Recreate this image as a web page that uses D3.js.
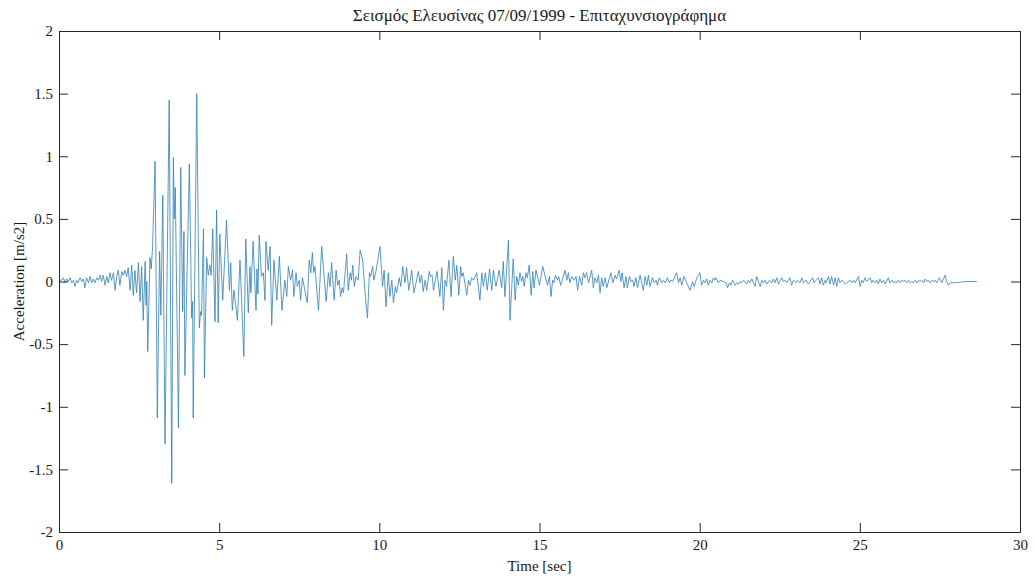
<!DOCTYPE html>
<html>
<head>
<meta charset="utf-8">
<script src="https://cdn.jsdelivr.net/npm/d3@7"></script>
<style>
  body { margin: 0; background: #ffffff; }
  svg { display: block; }
  svg text { font-family: 'Liberation Serif', 'Times New Roman', serif !important; fill: #1a1a1a; }
</style>
</head>
<body>
<svg id="chart" width="1034" height="576"></svg>
<script>
// Ground acceleration record, Athens (Elefsina) earthquake of 7 Sept 1999
// time in seconds, acceleration in m/s^2 (turning points of the trace)
const time = [
  0.00, 0.08, 0.14, 0.19, 0.24, 0.29, 0.34, 0.40, 0.45, 0.50, 0.55, 0.60, 0.66, 0.71, 0.76, 0.81,
  0.86, 0.92, 0.97, 1.02, 1.07, 1.12, 1.18, 1.23, 1.28, 1.33, 1.38, 1.44, 1.49, 1.54, 1.59, 1.64,
  1.70, 1.75, 1.80, 1.85, 1.90, 1.96, 2.01, 2.06, 2.11, 2.16, 2.22, 2.27, 2.32, 2.37, 2.42, 2.48,
  2.53, 2.58, 2.63, 2.69, 2.72, 2.74, 2.77, 2.84, 2.88, 2.92, 3.00, 3.07, 3.14, 3.18, 3.24, 3.31,
  3.44, 3.52, 3.57, 3.60, 3.63, 3.73, 3.80, 3.86, 3.90, 3.93, 4.07, 4.14, 4.17, 4.19, 4.30, 4.38,
  4.42, 4.45, 4.51, 4.54, 4.61, 4.66, 4.71, 4.75, 4.80, 4.87, 4.92, 4.97, 5.02, 5.11, 5.23, 5.32,
  5.36, 5.41, 5.46, 5.57, 5.65, 5.77, 5.83, 5.91, 5.96, 5.99, 6.06, 6.15, 6.18, 6.21, 6.25, 6.32,
  6.38, 6.43, 6.46, 6.53, 6.59, 6.64, 6.71, 6.80, 6.88, 6.96, 7.05, 7.11, 7.16, 7.23, 7.29, 7.33,
  7.40, 7.44, 7.50, 7.54, 7.60, 7.75, 7.81, 7.86, 7.91, 7.95, 7.99, 8.10, 8.20, 8.34, 8.41, 8.46,
  8.51, 8.59, 8.65, 8.70, 8.75, 8.79, 8.84, 8.88, 8.98, 9.03, 9.09, 9.13, 9.17, 9.22, 9.27, 9.34,
  9.40, 9.48, 9.58, 9.63, 9.69, 9.73, 9.79, 9.83, 9.90, 10.02, 10.10, 10.15, 10.21, 10.28, 10.33, 10.39,
  10.44, 10.50, 10.54, 10.62, 10.67, 10.73, 10.80, 10.85, 10.92, 11.01, 11.08, 11.22, 11.27, 11.32, 11.37, 11.43,
  11.48, 11.56, 11.60, 11.65, 11.69, 11.80, 11.89, 11.95, 12.00, 12.05, 12.10, 12.17, 12.24, 12.31, 12.37, 12.42,
  12.48, 12.54, 12.57, 12.62, 12.73, 12.78, 12.83, 12.88, 12.94, 13.04, 13.14, 13.20, 13.25, 13.31, 13.37, 13.44,
  13.51, 13.56, 13.64, 13.74, 13.82, 13.87, 13.92, 14.03, 14.08, 14.18, 14.24, 14.29, 14.34, 14.39, 14.44, 14.48,
  14.52, 14.58, 14.62, 14.68, 14.74, 14.79, 14.83, 14.89, 15.00, 15.10, 15.25, 15.31, 15.36, 15.41, 15.45, 15.50,
  15.56, 15.60, 15.66, 15.80, 15.85, 15.90, 15.95, 16.01, 16.08, 16.14, 16.19, 16.25, 16.32, 16.37, 16.42, 16.47,
  16.53, 16.63, 16.68, 16.73, 16.79, 16.84, 16.89, 16.94, 16.99, 17.05, 17.10, 17.23, 17.29, 17.36, 17.40, 17.49,
  17.54, 17.58, 17.64, 17.70, 17.74, 17.81, 17.85, 17.91, 17.95, 18.01, 18.06, 18.14, 18.24, 18.30, 18.35, 18.40,
  18.45, 18.53, 18.58, 18.64, 18.68, 18.74, 18.82, 18.87, 18.93, 18.99, 19.06, 19.10, 19.16, 19.28, 19.34, 19.39,
  19.44, 19.51, 19.58, 19.70, 19.78, 19.83, 19.91, 19.96, 20.01, 20.06, 20.12, 20.17, 20.22, 20.27, 20.32, 20.38,
  20.43, 20.47, 20.51, 20.58, 20.64, 20.82, 20.87, 20.93, 20.97, 21.03, 21.11, 21.16, 21.21, 21.26, 21.31, 21.37,
  21.47, 21.52, 21.57, 21.63, 21.73, 21.78, 21.89, 21.94, 21.99, 22.04, 22.09, 22.18, 22.25, 22.30, 22.35, 22.41,
  22.46, 22.56, 22.61, 22.67, 22.72, 22.82, 22.87, 22.93, 23.01, 23.05, 23.13, 23.19, 23.24, 23.32, 23.39, 23.53,
  23.57, 23.63, 23.71, 23.76, 23.81, 23.86, 23.92, 23.95, 24.02, 24.07, 24.12, 24.18, 24.23, 24.28, 24.33, 24.38,
  24.44, 24.54, 24.59, 24.70, 24.75, 24.80, 24.85, 24.96, 25.01, 25.06, 25.11, 25.16, 25.22, 25.32, 25.37, 25.42,
  25.48, 25.53, 25.58, 25.63, 25.68, 25.74, 25.79, 25.89, 25.94, 26.00, 26.05, 26.10, 26.15, 26.20, 26.26, 26.31,
  26.36, 26.41, 26.47, 26.52, 26.57, 26.62, 26.67, 26.73, 26.78, 26.83, 26.88, 26.93, 26.99, 27.04, 27.09, 27.14,
  27.19, 27.25, 27.30, 27.35, 27.40, 27.48, 27.56, 27.66, 27.71, 27.77, 27.82, 28.00, 28.30, 28.65
];
const accel = [
  0.01, 0.01, 0.03, -0.01, 0.02, 0.00, 0.03, -0.01, 0.01, -0.04, 0.01, -0.01, 0.03, 0.00, 0.02, -0.05,
  0.03, -0.01, 0.04, -0.01, 0.02, -0.01, 0.03, 0.01, 0.05, 0.00, 0.05, -0.03, 0.04, -0.01, 0.07, 0.01,
  0.07, -0.07, 0.04, 0.09, -0.03, 0.08, 0.05, 0.09, 0.04, 0.11, -0.07, 0.13, -0.11, 0.09, -0.09, 0.15,
  -0.16, 0.12, -0.31, 0.16, -0.19, 0.00, -0.56, 0.19, 0.10, 0.27, 0.96, -1.09, 0.24, -0.27, 0.69, -1.30,
  1.45, -1.61, 0.99, 0.50, 0.75, -1.17, 0.91, -0.24, 0.40, -0.75, 0.94, -0.29, -0.16, -1.09, 1.50, -0.37,
  -0.24, -0.27, 0.42, -0.77, 0.19, 0.05, 0.13, 0.05, 0.42, -0.32, 0.57, -0.33, 0.38, -0.15, 0.49, -0.07,
  0.15, -0.23, -0.07, -0.31, 0.17, -0.60, 0.34, -0.25, 0.12, -0.09, 0.32, -0.23, 0.10, -0.10, 0.37, 0.04,
  0.07, -0.15, 0.32, 0.09, 0.28, -0.35, 0.17, -0.15, 0.20, -0.23, 0.01, -0.12, 0.12, 0.01, 0.09, -0.12,
  0.07, -0.04, 0.01, -0.15, 0.03, -0.17, 0.17, 0.07, 0.23, 0.07, 0.12, -0.23, 0.28, -0.16, 0.07, -0.04,
  0.15, -0.15, 0.09, -0.03, 0.01, -0.12, -0.05, -0.09, 0.22, -0.07, 0.07, 0.01, 0.13, -0.04, 0.04, 0.01,
  0.25, 0.17, -0.17, -0.29, 0.07, 0.04, 0.12, 0.01, 0.09, 0.28, -0.04, 0.09, -0.20, 0.07, -0.12, 0.01,
  -0.17, -0.04, -0.09, 0.03, -0.04, 0.12, -0.01, 0.11, -0.07, 0.09, -0.09, 0.08, -0.01, 0.05, -0.08, 0.01,
  -0.07, 0.08, 0.04, 0.05, -0.07, 0.08, -0.12, 0.11, -0.23, 0.01, -0.04, 0.17, -0.12, 0.20, 0.01, 0.13,
  -0.11, 0.12, 0.04, 0.07, -0.11, 0.01, -0.03, 0.03, 0.01, 0.07, -0.15, 0.07, -0.04, 0.07, -0.07, 0.10,
  -0.07, 0.09, -0.04, 0.09, -0.05, 0.16, -0.12, 0.33, -0.31, 0.18, -0.15, 0.04, -0.03, 0.07, 0.00, 0.04,
  -0.04, 0.07, 0.03, 0.13, -0.11, 0.08, -0.05, 0.09, -0.03, 0.12, -0.03, 0.04, -0.12, 0.01, -0.01, 0.05,
  0.01, 0.04, -0.03, 0.09, 0.01, 0.07, -0.01, 0.04, 0.01, 0.04, -0.07, 0.04, -0.03, 0.07, 0.03, 0.07,
  -0.01, 0.09, -0.05, 0.03, -0.01, 0.05, -0.09, 0.03, -0.04, 0.03, -0.05, 0.07, -0.01, 0.05, 0.02, 0.09,
  0.00, 0.07, -0.05, 0.04, -0.05, 0.04, 0.00, 0.01, -0.04, 0.03, -0.05, 0.05, -0.07, 0.04, -0.03, 0.05,
  -0.04, 0.03, -0.01, 0.01, -0.03, 0.03, -0.01, 0.01, -0.01, 0.03, -0.01, 0.01, 0.00, 0.07, -0.01, 0.03,
  -0.03, 0.04, 0.00, -0.07, 0.00, -0.04, 0.03, 0.05, 0.07, -0.03, 0.01, -0.01, 0.02, -0.03, 0.01, -0.01,
  0.03, 0.01, 0.03, -0.01, 0.01, -0.01, -0.05, -0.01, -0.03, 0.01, -0.03, -0.01, -0.02, 0.00, -0.01, 0.01,
  -0.02, 0.01, -0.01, 0.02, -0.04, 0.04, -0.04, 0.01, -0.01, 0.01, -0.02, 0.01, -0.01, 0.02, -0.01, 0.03,
  -0.02, 0.03, 0.00, 0.01, -0.01, 0.03, -0.03, 0.01, -0.01, 0.01, -0.01, 0.03, -0.01, 0.01, -0.02, 0.03,
  -0.01, 0.01, 0.03, -0.02, 0.03, -0.03, 0.01, -0.01, 0.04, -0.02, 0.04, -0.03, 0.03, -0.04, 0.03, -0.01,
  0.01, -0.02, -0.01, 0.01, -0.01, 0.01, -0.01, 0.04, -0.04, 0.01, -0.01, 0.03, 0.00, 0.03, -0.01, 0.01,
  -0.01, 0.01, -0.02, 0.02, -0.01, 0.01, -0.02, 0.03, -0.01, 0.01, -0.01, 0.00, -0.01, 0.01, -0.01, 0.01,
  0.00, 0.01, -0.01, 0.01, -0.01, 0.00, -0.01, 0.01, -0.01, 0.01, 0.00, 0.01, -0.01, 0.02, 0.00, 0.01,
  -0.01, 0.01, 0.00, 0.01, -0.01, 0.03, -0.01, 0.05, 0.00, -0.03, -0.01, -0.01, 0.00, 0.00
];

const xTicks = [0, 5, 10, 15, 20, 25, 30];
const yTicks = [-2, -1.5, -1, -0.5, 0, 0.5, 1, 1.5, 2];
const titleText = "Σεισμός Ελευσίνας 07/09/1999 - Επιταχυνσιογράφημα";
const xLabelText = "Time [sec]";
const yLabelText = "Acceleration [m/s2]";

const W = 1034, H = 576;
const margin = { left: 59, right: 14, top: 31, bottom: 44 };
const axisColor = "#262626";
const lineColor = "#2f80b6";
const tickLen = 9;
const serif = "'Liberation Serif', 'Times New Roman', serif";

const svg = d3.select("#chart").attr("font-family", serif);

const x = d3.scaleLinear().domain([0, 30]).range([margin.left, W - margin.right]);
const y = d3.scaleLinear().domain([-2, 2]).range([H - margin.bottom, margin.top]);

// the trace, clipped to the axes box
svg.append("clipPath").attr("id", "plot-clip")
  .append("rect")
  .attr("x", x(0)).attr("y", y(2))
  .attr("width", x(30) - x(0)).attr("height", y(-2) - y(2));

const series = d3.zip(time, accel);
const line = d3.line().x(d => x(d[0])).y(d => y(d[1]));

svg.append("path")
  .datum(series)
  .attr("clip-path", "url(#plot-clip)")
  .attr("fill", "none")
  .attr("stroke", lineColor)
  .attr("stroke-width", 0.8)
  .attr("stroke-linejoin", "round")
  .attr("d", line);

// axes with inward ticks on all four sides (box on)
function styleAxis(g) {
  g.attr("font-family", serif).attr("font-size", 15);
  g.selectAll(".domain").attr("stroke", axisColor).attr("stroke-width", 1);
  g.selectAll(".tick line").attr("stroke", axisColor).attr("stroke-width", 1);
  g.selectAll(".tick text").attr("fill", "#1a1a1a")
    .style("font-family", serif).style("font-size", "15px");
}

svg.append("g")
  .attr("transform", `translate(0,${y(-2)})`)
  .call(d3.axisBottom(x).tickValues(xTicks).tickFormat(d3.format("d"))
    .tickSizeInner(-tickLen).tickSizeOuter(0).tickPadding(7))
  .call(styleAxis);

svg.append("g")
  .attr("transform", `translate(0,${y(2)})`)
  .call(d3.axisTop(x).tickValues(xTicks).tickFormat("")
    .tickSizeInner(-tickLen).tickSizeOuter(0))
  .call(styleAxis);

svg.append("g")
  .attr("transform", `translate(${x(0)},0)`)
  .call(d3.axisLeft(y).tickValues(yTicks).tickFormat(d => String(d))
    .tickSizeInner(-tickLen).tickSizeOuter(0).tickPadding(6))
  .call(styleAxis);

svg.append("g")
  .attr("transform", `translate(${x(30)},0)`)
  .call(d3.axisRight(y).tickValues(yTicks).tickFormat("")
    .tickSizeInner(-tickLen).tickSizeOuter(0))
  .call(styleAxis);

// titles
svg.append("text")
  .attr("x", (x(0) + x(30)) / 2).attr("y", 21)
  .attr("text-anchor", "middle")
  .style("font-family", serif)
  .style("font-size", "17px")
  .text(titleText);

svg.append("text")
  .attr("x", (x(0) + x(30)) / 2).attr("y", 571)
  .attr("text-anchor", "middle")
  .style("font-family", serif)
  .style("font-size", "15px")
  .text(xLabelText);

svg.append("text")
  .attr("transform", `translate(24,${(y(2) + y(-2)) / 2}) rotate(-90)`)
  .attr("text-anchor", "middle")
  .style("font-family", serif)
  .style("font-size", "15px")
  .text(yLabelText);
</script>
</body>
</html>
